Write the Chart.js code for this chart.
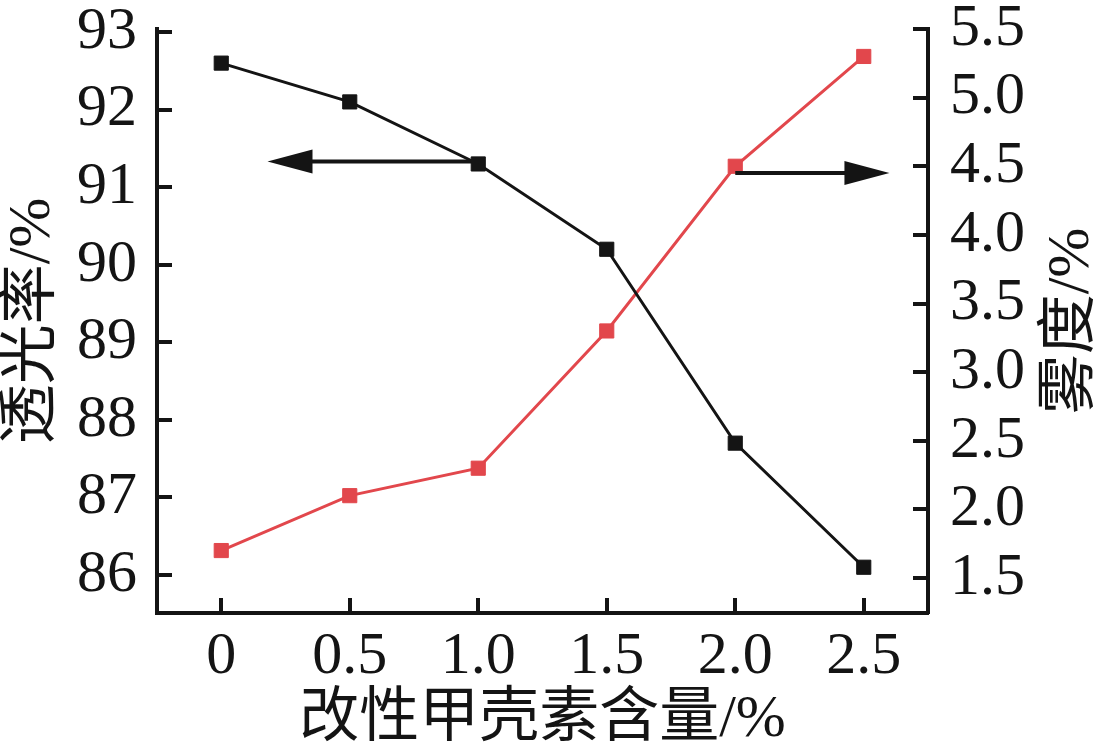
<!DOCTYPE html>
<html><head><meta charset="utf-8">
<script src="https://cdn.jsdelivr.net/npm/chart.js@4.4.1/dist/chart.umd.min.js"></script>
<style>html,body{margin:0;padding:0;background:#fff}#wrap{width:1100px;height:753px}</style>
</head><body><div id="wrap"><canvas id="c" width="1100" height="753"></canvas></div>
<script>
// ---- data ----
const contents = [0, 0.5, 1.0, 1.5, 2.0, 2.5];
const transmittance = [92.6, 92.1, 91.3, 90.2, 87.7, 86.1];
const haze = [1.7, 2.1, 2.3, 3.3, 4.5, 5.3];
const xTicks = [0, 0.5, 1.0, 1.5, 2.0, 2.5];
const xTickLabels = ['0', '0.5', '1.0', '1.5', '2.0', '2.5'];
const leftTicks = [86, 87, 88, 89, 90, 91, 92, 93];
const leftTickLabels = ['86', '87', '88', '89', '90', '91', '92', '93'];
const rightTicks = [1.5, 2.0, 2.5, 3.0, 3.5, 4.0, 4.5, 5.0, 5.5];
const rightTickLabels = ['1.5', '2.0', '2.5', '3.0', '3.5', '4.0', '4.5', '5.0', '5.5'];
const xTitle = '改性甲壳素含量/%';
const leftTitle = '透光率/%';
const rightTitle = '雾度/%';
// arrows (data units): start x, tip x, y value, axis id
const arrowLeft = [1.0, 0.18, 91.33, 'y'];
const arrowRight = [2.0, 2.6, 4.45, 'y1'];

// ---- styles ----
const INK = '#141414';
const RED = '#e2474c';
const FONT = "'Liberation Serif', 'Noto Sans CJK SC', serif";

const fixSize = (w, h) => (s) => {
  if (w != null) s.width = w;
  if (h != null) s.height = h;
  s.paddingTop = 0; s.paddingBottom = 0; s.paddingLeft = 0; s.paddingRight = 0;
};
const setTicks = (arr) => (s) => { s.ticks = arr.map(v => ({ value: v })); };

const inwardTicks = {
  id: 'inwardTicks',
  beforeDatasetsDraw(chart) {
    const { ctx, chartArea: a, scales } = chart;
    ctx.save();
    ctx.strokeStyle = INK;
    ctx.lineWidth = 4;
    ctx.lineCap = 'butt';
    const L = 15;
    ctx.beginPath();
    scales.x.ticks.forEach(t => {
      const px = Math.round(scales.x.getPixelForValue(t.value));
      ctx.moveTo(px, a.bottom); ctx.lineTo(px, a.bottom - L);
    });
    scales.y.ticks.forEach(t => {
      const py = Math.round(scales.y.getPixelForValue(t.value));
      ctx.moveTo(a.left, py); ctx.lineTo(a.left + L, py);
    });
    scales.y1.ticks.forEach(t => {
      const py = Math.round(scales.y1.getPixelForValue(t.value));
      ctx.moveTo(a.right, py); ctx.lineTo(a.right - L, py);
    });
    ctx.stroke();
    ctx.restore();
  }
};

const arrows = {
  id: 'arrows',
  afterDatasetsDraw(chart) {
    const { ctx, scales } = chart;
    const draw = (spec) => {
      const [fx, tx, yv, axis] = spec;
      const x1 = scales.x.getPixelForValue(fx);
      const x2 = scales.x.getPixelForValue(tx);
      const y = scales[axis].getPixelForValue(yv);
      const dir = Math.sign(x2 - x1);
      const headLen = 45, half = 12;
      ctx.save();
      ctx.strokeStyle = INK; ctx.fillStyle = INK; ctx.lineWidth = 4;
      ctx.beginPath(); ctx.moveTo(x1, y); ctx.lineTo(x2 - dir * headLen * 0.6, y); ctx.stroke();
      ctx.beginPath();
      ctx.moveTo(x2, y);
      ctx.lineTo(x2 - dir * headLen, y - half);
      ctx.lineTo(x2 - dir * headLen, y + half);
      ctx.closePath(); ctx.fill();
      ctx.restore();
    };
    draw(arrowLeft); draw(arrowRight);
  }
};

const rightTitlePlugin = {
  id: 'rightTitle',
  afterDraw(chart) {
    const { ctx, chartArea: a } = chart;
    ctx.save();
    ctx.font = `60px ${FONT}`;
    ctx.fillStyle = INK;
    ctx.textAlign = 'center';
    ctx.textBaseline = 'middle';
    ctx.translate(1072, (a.top + a.bottom) / 2);
    ctx.rotate(-Math.PI / 2);
    ctx.fillText(rightTitle, 0, 0);
    ctx.restore();
  }
};

new Chart(document.getElementById('c'), {
  type: 'line',
  data: {
    datasets: [
      {
        label: leftTitle,
        data: contents.map((x, i) => ({ x, y: transmittance[i] })),
        yAxisID: 'y',
        borderColor: INK, backgroundColor: INK,
        borderWidth: 3,
        pointStyle: 'rect', pointRadius: 10, pointBorderWidth: 1,
        pointBackgroundColor: INK, pointBorderColor: INK,
        tension: 0
      },
      {
        label: rightTitle,
        data: contents.map((x, i) => ({ x, y: haze[i] })),
        yAxisID: 'y1',
        borderColor: RED, backgroundColor: RED,
        borderWidth: 3,
        pointStyle: 'rect', pointRadius: 10, pointBorderWidth: 1,
        pointBackgroundColor: RED, pointBorderColor: RED,
        tension: 0
      }
    ]
  },
  options: {
    responsive: false,
    animation: false,
    devicePixelRatio: 1,
    layout: { padding: { top: 29, left: 0, right: 0, bottom: 0 } },
    plugins: { legend: { display: false }, tooltip: { enabled: false } },
    scales: {
      x: {
        type: 'linear', position: 'bottom',
        min: -0.25, max: 2.75,
        afterBuildTicks: setTicks(xTicks),
        afterFit: fixSize(null, 140),
        grid: { display: false, drawTicks: false, tickLength: 0 },
        border: { display: true, width: 4, color: INK },
        ticks: {
          font: { family: FONT, size: 60 }, color: INK, padding: 8,
          maxRotation: 0, autoSkip: false,
          callback: (v, i) => xTickLabels[i]
        },
        title: {
          display: true, text: xTitle, color: INK,
          font: { family: FONT, size: 60, lineHeight: 1.1 }, padding: 0
        }
      },
      y: {
        type: 'linear', position: 'left',
        min: 85.51, max: 93.04,
        afterBuildTicks: setTicks(leftTicks),
        afterFit: fixSize(157, null),
        grid: { display: false, drawTicks: false, tickLength: 0 },
        border: { display: true, width: 4, color: INK },
        ticks: {
          font: { family: FONT, size: 60 }, color: INK, padding: 20,
          autoSkip: false,
          callback: (v, i) => leftTickLabels[i]
        },
        title: {
          display: true, text: leftTitle, color: INK,
          font: { family: FONT, size: 60, lineHeight: 1.1 }, padding: 0
        }
      },
      y1: {
        type: 'linear', position: 'right',
        min: 1.245, max: 5.5,
        afterBuildTicks: setTicks(rightTicks),
        afterFit: fixSize(172, null),
        grid: { display: false, drawTicks: false, tickLength: 0 },
        border: { display: true, width: 4, color: INK },
        ticks: {
          font: { family: FONT, size: 60 }, color: INK, padding: 22,
          autoSkip: false,
          callback: (v, i) => rightTickLabels[i]
        },
        title: { display: false }
      }
    }
  },
  plugins: [inwardTicks, arrows, rightTitlePlugin]
});
</script>
</body></html>
